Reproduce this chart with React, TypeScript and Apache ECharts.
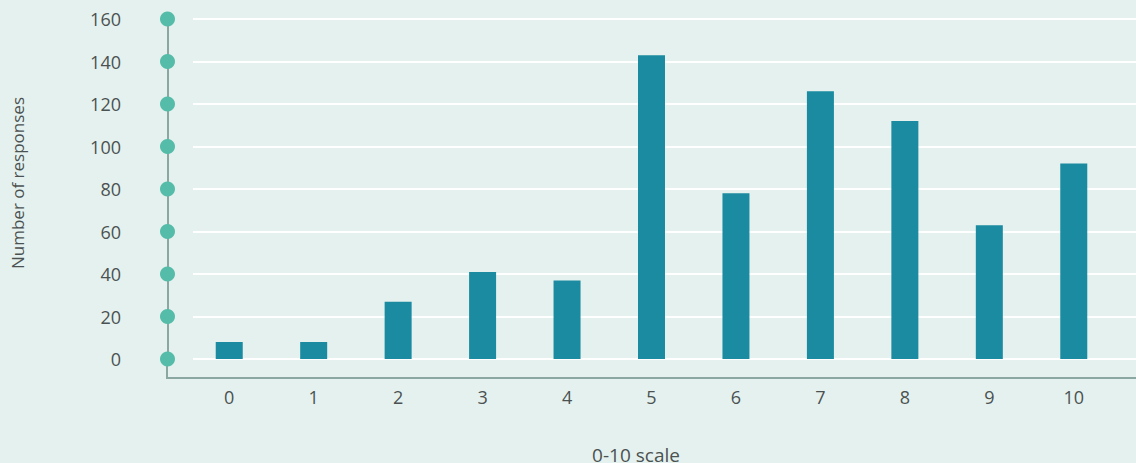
import React, { useEffect, useRef } from "react";
import * as echarts from "echarts";

const categories = ["0", "1", "2", "3", "4", "5", "6", "7", "8", "9", "10"];
const responses = [8, 8, 27, 41, 37, 143, 78, 126, 112, 63, 92];
const yTicks = [0, 20, 40, 60, 80, 100, 120, 140, 160];
const yAxisTitle = "Number of responses";
const xAxisTitle = "0-10 scale";

const FONT = "'Open Sans', 'Noto Sans', sans-serif";
const TEXT = "#4b5252";
const AXIS = "#8aa8a1";

export default function App() {
  const ref = useRef<HTMLDivElement>(null);
  useEffect(() => {
    if (!ref.current) return;
    const chart = echarts.init(ref.current, undefined, { renderer: "svg" });
    const yCommon = { type: "value", min: 0, max: 160, interval: 20 };
    chart.setOption({
      animation: false,
      backgroundColor: "#e5f1ee",
      textStyle: { fontFamily: FONT },
      grid: [
        { left: 187, right: 20, top: 19, height: 340 },
        { left: 193, right: 0, top: 19, height: 340 },
        { left: 167, width: 1, top: 19, height: 340 },
      ],
      xAxis: [
        {
          type: "category",
          gridIndex: 0,
          data: categories,
          axisLine: { show: false },
          axisTick: { show: false },
          axisLabel: { margin: 29, fontSize: 18, color: TEXT, fontFamily: FONT },
        },
        { type: "value", gridIndex: 1, show: false, min: 0, max: 1 },
        { type: "value", gridIndex: 2, show: false, min: -1, max: 1 },
      ],
      yAxis: [
        { ...yCommon, gridIndex: 0, show: false },
        {
          ...yCommon,
          gridIndex: 1,
          axisLine: { show: false },
          axisTick: { show: false },
          axisLabel: { show: false },
          splitLine: { show: true, lineStyle: { color: "#ffffff", width: 2 } },
        },
        {
          ...yCommon,
          gridIndex: 2,
          axisLine: { show: true, lineStyle: { color: AXIS, width: 2 } },
          axisTick: { show: false },
          splitLine: { show: false },
          axisLabel: { margin: 46, fontSize: 18, color: TEXT, fontFamily: FONT },
        },
      ],
      graphic: [
        {
          type: "line",
          shape: { x1: 167, y1: 359, x2: 167, y2: 378 },
          style: { stroke: AXIS, lineWidth: 2 },
          z: 1,
        },
        {
          type: "line",
          shape: { x1: 166, y1: 378, x2: 1136, y2: 378 },
          style: { stroke: AXIS, lineWidth: 2 },
          z: 1,
        },
        {
          type: "text",
          x: 17,
          y: 183,
          rotation: Math.PI / 2,
          style: {
            text: yAxisTitle,
            fill: TEXT,
            font: `17px ${FONT}`,
            align: "center",
            verticalAlign: "middle",
          },
        },
        {
          type: "text",
          x: 636,
          y: 455,
          style: {
            text: xAxisTitle,
            fill: TEXT,
            font: `19px ${FONT}`,
            align: "center",
            verticalAlign: "middle",
          },
        },
      ],
      series: [
        {
          type: "bar",
          xAxisIndex: 0,
          yAxisIndex: 0,
          data: responses,
          barWidth: 27,
          itemStyle: { color: "#1a8ba0" },
        },
        {
          type: "scatter",
          xAxisIndex: 2,
          yAxisIndex: 2,
          data: yTicks.map((v) => [0, v]),
          symbolSize: 15,
          itemStyle: { color: "#54bca8", opacity: 1 },
          z: 5,
        },
      ],
    });
    return () => chart.dispose();
  }, []);
  return (
    <div
      ref={ref}
      style={{ position: "fixed", left: 0, top: 0, width: 1136, height: 463 }}
    />
  );
}
